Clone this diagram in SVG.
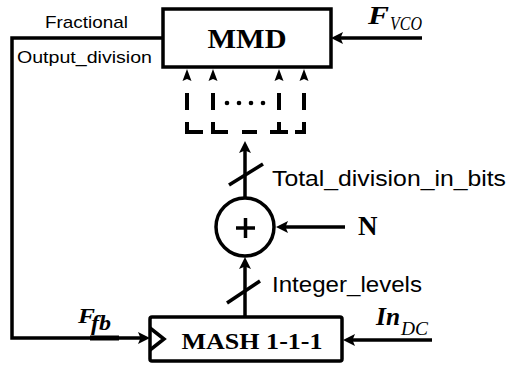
<svg xmlns="http://www.w3.org/2000/svg" xmlns:xlink="http://www.w3.org/1999/xlink" width="508" height="367" viewBox="0 0 508 367">
<style>
.ln{fill:none;stroke:#000;stroke-width:3.5}
.box{fill:#fff;stroke:#000;stroke-width:3.5}
.ds{fill:none;stroke:#000;stroke-width:4;stroke-linejoin:miter}
.sans{font-family:"Liberation Sans",Arial,sans-serif;fill:#000}
.serifb{font-family:"Liberation Serif","Times New Roman",serif;font-weight:bold;fill:#000}
.bi{font-family:"Liberation Serif","Times New Roman",serif;font-weight:bold;font-style:italic;fill:#000}
.it{font-family:"Liberation Serif","Times New Roman",serif;font-style:italic;fill:#000}
</style>
<defs>
<marker id="ah" markerWidth="14" markerHeight="12" refX="8" refY="6" orient="auto" markerUnits="userSpaceOnUse">
<path d="M0,0 L12,6 L0,12 L2.5,6 z" fill="#000"/>
</marker>
<path id="sa" d="M0,0 L-4.5,12 L0,10 L4.5,12 z" fill="#000"/>
</defs>

<g id="connectors">
<line class="ln" x1="422" y1="38" x2="335" y2="38" marker-end="url(#ah)"/>
<path class="ln" d="M163,38 H12 V338 H146" stroke-linejoin="miter" marker-end="url(#ah)"/>
<line x1="90" y1="338" x2="119" y2="338" stroke="#000" stroke-width="5"/>
<line class="ln" x1="245" y1="317" x2="245" y2="261" marker-end="url(#ah)"/>
<line class="ln" x1="245" y1="197" x2="245" y2="145" marker-end="url(#ah)"/>
<line class="ln" x1="345" y1="227" x2="280" y2="227" marker-end="url(#ah)"/>
<line class="ln" x1="432" y1="340" x2="347" y2="340" marker-end="url(#ah)"/>
<line class="ln" x1="229" y1="185" x2="263" y2="164"/>
<line class="ln" x1="227" y1="303" x2="260" y2="281"/>
</g>

<g id="bus">
<use xlink:href="#sa" href="#sa" x="187" y="69"/>
<use xlink:href="#sa" href="#sa" x="213" y="69"/>
<use xlink:href="#sa" href="#sa" x="279" y="69"/>
<use xlink:href="#sa" href="#sa" x="304" y="69"/>
<path class="ds" d="M187,93 V110 M213,93 V110 M279,93 V110 M304,93 V110"/>
<path class="ds" d="M187,122 V132 H203 M213,122 V132 H228 M242,132 H257 M270,132 H288 M279,122 V132 M295,132 H304 V122"/>
<circle cx="227" cy="103" r="2.3"/>
<circle cx="239" cy="103" r="2.3"/>
<circle cx="251" cy="103" r="2.3"/>
<circle cx="263" cy="103" r="2.3"/>
</g>

<g id="mmd">
<rect class="box" x="163" y="9" width="168" height="58"/>
<text class="serifb" x="247" y="48" font-size="27" text-anchor="middle" textLength="79" lengthAdjust="spacingAndGlyphs">MMD</text>
</g>

<g id="mash">
<rect class="box" x="150" y="317" width="192" height="44" rx="2"/>
<polyline class="ln" points="150,328 164,339 150,350" stroke-linejoin="miter"/>
<text class="serifb" x="252" y="349" font-size="24" text-anchor="middle" textLength="141" lengthAdjust="spacingAndGlyphs">MASH 1-1-1</text>
</g>

<g id="adder">
<circle class="box" cx="245" cy="227" r="29"/>
<path class="ln" d="M236,228 H255 M245.5,218 V238"/>
</g>

<g id="labels">
<text class="sans" x="45" y="28" font-size="17" textLength="83" lengthAdjust="spacingAndGlyphs">Fractional</text>
<text class="sans" x="17" y="63" font-size="17" textLength="135" lengthAdjust="spacingAndGlyphs">Output_division</text>
<text class="sans" x="272" y="186" font-size="22" textLength="234" lengthAdjust="spacingAndGlyphs">Total_division_in_bits</text>
<text class="sans" x="272" y="292" font-size="22" textLength="150" lengthAdjust="spacingAndGlyphs">Integer_levels</text>
<text class="serifb" x="358" y="235" font-size="27">N</text>
<text class="bi" x="368" y="24" font-size="25" textLength="21" lengthAdjust="spacingAndGlyphs">F</text>
<text class="it" x="390" y="30" font-size="19" textLength="32" lengthAdjust="spacingAndGlyphs">VCO</text>
<text class="bi" x="78" y="323" font-size="22" textLength="17" lengthAdjust="spacingAndGlyphs">F</text>
<text class="bi" x="91" y="330" font-size="20" textLength="20" lengthAdjust="spacingAndGlyphs">fb</text>
<text class="bi" x="376" y="325" font-size="25" textLength="24" lengthAdjust="spacingAndGlyphs">In</text>
<text class="it" x="401" y="335" font-size="19" textLength="27" lengthAdjust="spacingAndGlyphs">DC</text>
</g>
</svg>
